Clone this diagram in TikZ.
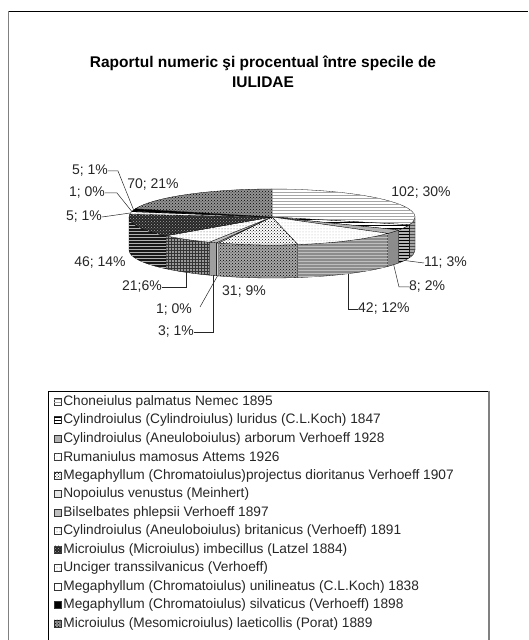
\documentclass[tikz,border=0pt]{standalone}
\usepackage{fontspec}
\setmainfont{Liberation Sans}
\usetikzlibrary{patterns,calc,positioning}

\begin{document}
\begin{tikzpicture}[x=1pt,y=1pt,
		slice/.style={draw=black, line width=0.3pt, line join=round},
		lbl/.style={font=\fontsize{14}{16}\selectfont, text=black!85, inner sep=0pt},
		lg/.style={font=\fontsize{13.7}{16}\selectfont, text=black!85, inner sep=0pt, anchor=west},
		mk/.style={draw=black!80, line width=0.3pt, minimum size=7pt, inner sep=0pt},
		ldr/.style={draw=black!85, line width=0.5pt},
		tA/.style={fill=white, postaction={pattern=horizontal lines, pattern color=gray!70}},
		sA/.style={fill=gray!70, postaction={pattern=horizontal lines, pattern color=black!70}},
		tB/.style={fill=white, postaction={pattern=horizontal lines, pattern color=black}},
		sB/.style={fill=gray!60, postaction={pattern=horizontal lines, pattern color=black}},
		tC/.style={fill=gray!60},
		sC/.style={fill=gray!90},
		tD/.style={fill=white, postaction={pattern=dots, pattern color=gray!60}},
		sD/.style={fill=gray!90, postaction={pattern=horizontal lines, pattern color=gray!50}},
		tE/.style={fill=white, postaction={pattern=crosshatch dots, pattern color=black}},
		sE/.style={fill=gray!70, postaction={pattern=crosshatch dots, pattern color=black}},
		tF/.style={fill=gray!20},
		sF/.style={fill=gray!40},
		tG/.style={fill=gray!50},
		sG/.style={fill=gray!75},
		tH/.style={fill=white, postaction={pattern=dots, pattern color=black!70}},
		sH/.style={fill=gray!80, postaction={pattern=grid, pattern color=black!80}},
		tI/.style={fill=black!85, postaction={pattern=crosshatch dots, pattern color=gray!70}},
		sI/.style={fill=black!90, postaction={pattern=horizontal lines, pattern color=gray!60}},
		tJ/.style={fill=white, postaction={pattern=dots, pattern color=gray}},
		tK/.style={fill=white},
		tL/.style={fill=black},
		tM/.style={fill=gray!85, postaction={pattern=crosshatch dots, pattern color=black}}]
	\useasboundingbox (0,0) rectangle (528,640);
	%% frame
	\draw[black, line width=0.8pt] (8,629) -- (528,629);
	\draw[gray, line width=1pt] (8,629) -- (8,0);
	%% title
	\node[font=\bfseries\fontsize{15.5}{20}\selectfont, align=center] (title) at (263,568)
		{Raportul numeric şi procentual între specile de\\IULIDAE};
	%% pie
	\coordinate (c) at (272,423);
	\coordinate (cb) at (272,390);
	% exploded slice
	\begin{scope}[shift={(4,4)}]
		\path[slice, fill=gray!70] (c) -- ($(c)+(-16.13:143 and 28)$) -- ++(0,-33) -- (cb) -- cycle;
		\path[slice, sA] ($(c)+(0:143 and 28)$) arc[start angle=0, end angle=-16.13, x radius=143, y radius=28]
			-- ++(0,-33) arc[start angle=-16.13, end angle=0, x radius=143, y radius=28] -- cycle;
		\path[slice, tA] (c) -- ($(c)+(90:143 and 28)$) arc[start angle=90, end angle=-16.13, x radius=143, y radius=28] -- cycle;
	\end{scope}
	% sides
	\foreach \a/\b/\s in {-16.13/-27.58/sB, -27.58/-35.90/sC, -35.90/-79.60/sD, -79.60/-111.85/sE,
		-111.85/-112.89/sF, -112.89/-116.01/sG, -116.01/-137.86/sH, -137.86/-180/sI}
		\path[slice, \s] ($(c)+(\a:143 and 28)$) arc[start angle=\a, end angle=\b, x radius=143, y radius=28]
			-- ++(0,-33) arc[start angle=\b, end angle=\a, x radius=143, y radius=28] -- cycle;
	% tops
	\foreach \a/\b/\s in {-16.13/-27.58/tB, -27.58/-35.90/tC, -35.90/-79.60/tD, -79.60/-111.85/tE,
		-111.85/-112.89/tF, -112.89/-116.01/tG, -116.01/-137.86/tH, -137.86/-185.72/tI,
		-185.72/-190.92/tJ, -190.92/-191.96/tK, -191.96/-197.16/tL, -197.16/-270/tM}
		\path[slice, \s] (c) -- ($(c)+(\a:143 and 28)$) arc[start angle=\a, end angle=\b, x radius=143, y radius=28] -- cycle;
	%% data labels
	\node[lbl] (l102) at (421,447) {102; 30\%};
	\node[lbl, anchor=west] (l11) at (424,377) {11; 3\%};
	\node[lbl, anchor=west] (l8) at (409,353) {8; 2\%};
	\node[lbl, anchor=west] (l42) at (358,331) {42; 12\%};
	\node[lbl] (l31) at (244,348) {31; 9\%};
	\node[lbl, anchor=east] (l1a) at (192,330) {1; 0\%};
	\node[lbl, anchor=east] (l3) at (194,308) {3; 1\%};
	\node[lbl, anchor=east] (l21) at (162,353) {21;6\%};
	\node[lbl] (l46) at (100,377) {46; 14\%};
	\node[lbl, anchor=east] (l5a) at (102,423) {5; 1\%};
	\node[lbl, anchor=east] (l1b) at (105,447) {1; 0\%};
	\node[lbl, anchor=east] (l5b) at (108,469) {5; 1\%};
	\node[lbl] (l70) at (153,455) {70; 21\%};
	%% leaders
	\coordinate (p11) at ($(cb)+(-22:143 and 28)$);
	\coordinate (p8) at ($(cb)+(-31.7:143 and 28)$);
	\coordinate (p42) at ($(cb)+(-57.75:143 and 28)$);
	\coordinate (p1a) at ($(cb)+(-112.4:143 and 28)$);
	\coordinate (p3) at ($(cb)+(-114.45:143 and 28)$);
	\coordinate (p21) at ($(cb)+(-127:143 and 28)$);
	\coordinate (p5a) at ($(c)+(-188.3:143 and 28)$);
	\coordinate (p1b) at ($(c)+(-191.4:143 and 28)$);
	\coordinate (p5b) at ($(c)+(-194.6:143 and 28)$);
	\path[ldr] (p11) -- (l11.west);
	\path[ldr] (p8) -- ($(l8.west)+(-10,0)$) -- (l8.west);
	\path[ldr] (p42) |- (l42.west);
	\path[ldr] (p1a) -- ($(l1a.east)+(8,3)$);
	\path[ldr] (p3) |- (l3.east);
	\path[ldr] (p21) |- (l21.east);
	\path[ldr] (l5a.east) -- (p5a);
	\path[ldr] (l1b.east) -- ++(12,0) -- (p1b);
	\path[ldr] (l5b.east) -- ++(10,0) -- (p5b);
	%% legend
	\draw[black, line width=0.6pt] (48,-5) -- (48,249) -- (489,249);
	\draw[gray, line width=2.5pt] (489,249) -- (489,-5);
	\foreach \m/\t [count=\i] in {tA/Choneiulus palmatus Nemec 1895,
		tB/Cylindroiulus (Cylindroiulus) luridus (C.L.Koch) 1847,
		tC/Cylindroiulus (Aneuloboiulus) arborum Verhoeff 1928,
		tD/Rumaniulus mamosus Attems 1926,
		tE/Megaphyllum (Chromatoiulus)projectus dioritanus Verhoeff 1907,
		tF/Nopoiulus venustus (Meinhert),
		tG/Bilselbates phlepsii Verhoeff 1897,
		tH/Cylindroiulus (Aneuloboiulus) britanicus (Verhoeff) 1891,
		tI/Microiulus (Microiulus) imbecillus (Latzel 1884),
		tJ/Unciger transsilvanicus (Verhoeff),
		tK/Megaphyllum (Chromatoiulus) unilineatus (C.L.Koch) 1838,
		tL/Megaphyllum (Chromatoiulus) silvaticus (Verhoeff) 1898,
		tM/Microiulus (Mesomicroiulus) laeticollis (Porat) 1889} {
		\node[mk, \m] (m\i) at (57.5,257-18.5*\i) {};
		\node[lg, right=2pt of m\i] (e\i) {\t};
	}
\end{tikzpicture}
\end{document}
